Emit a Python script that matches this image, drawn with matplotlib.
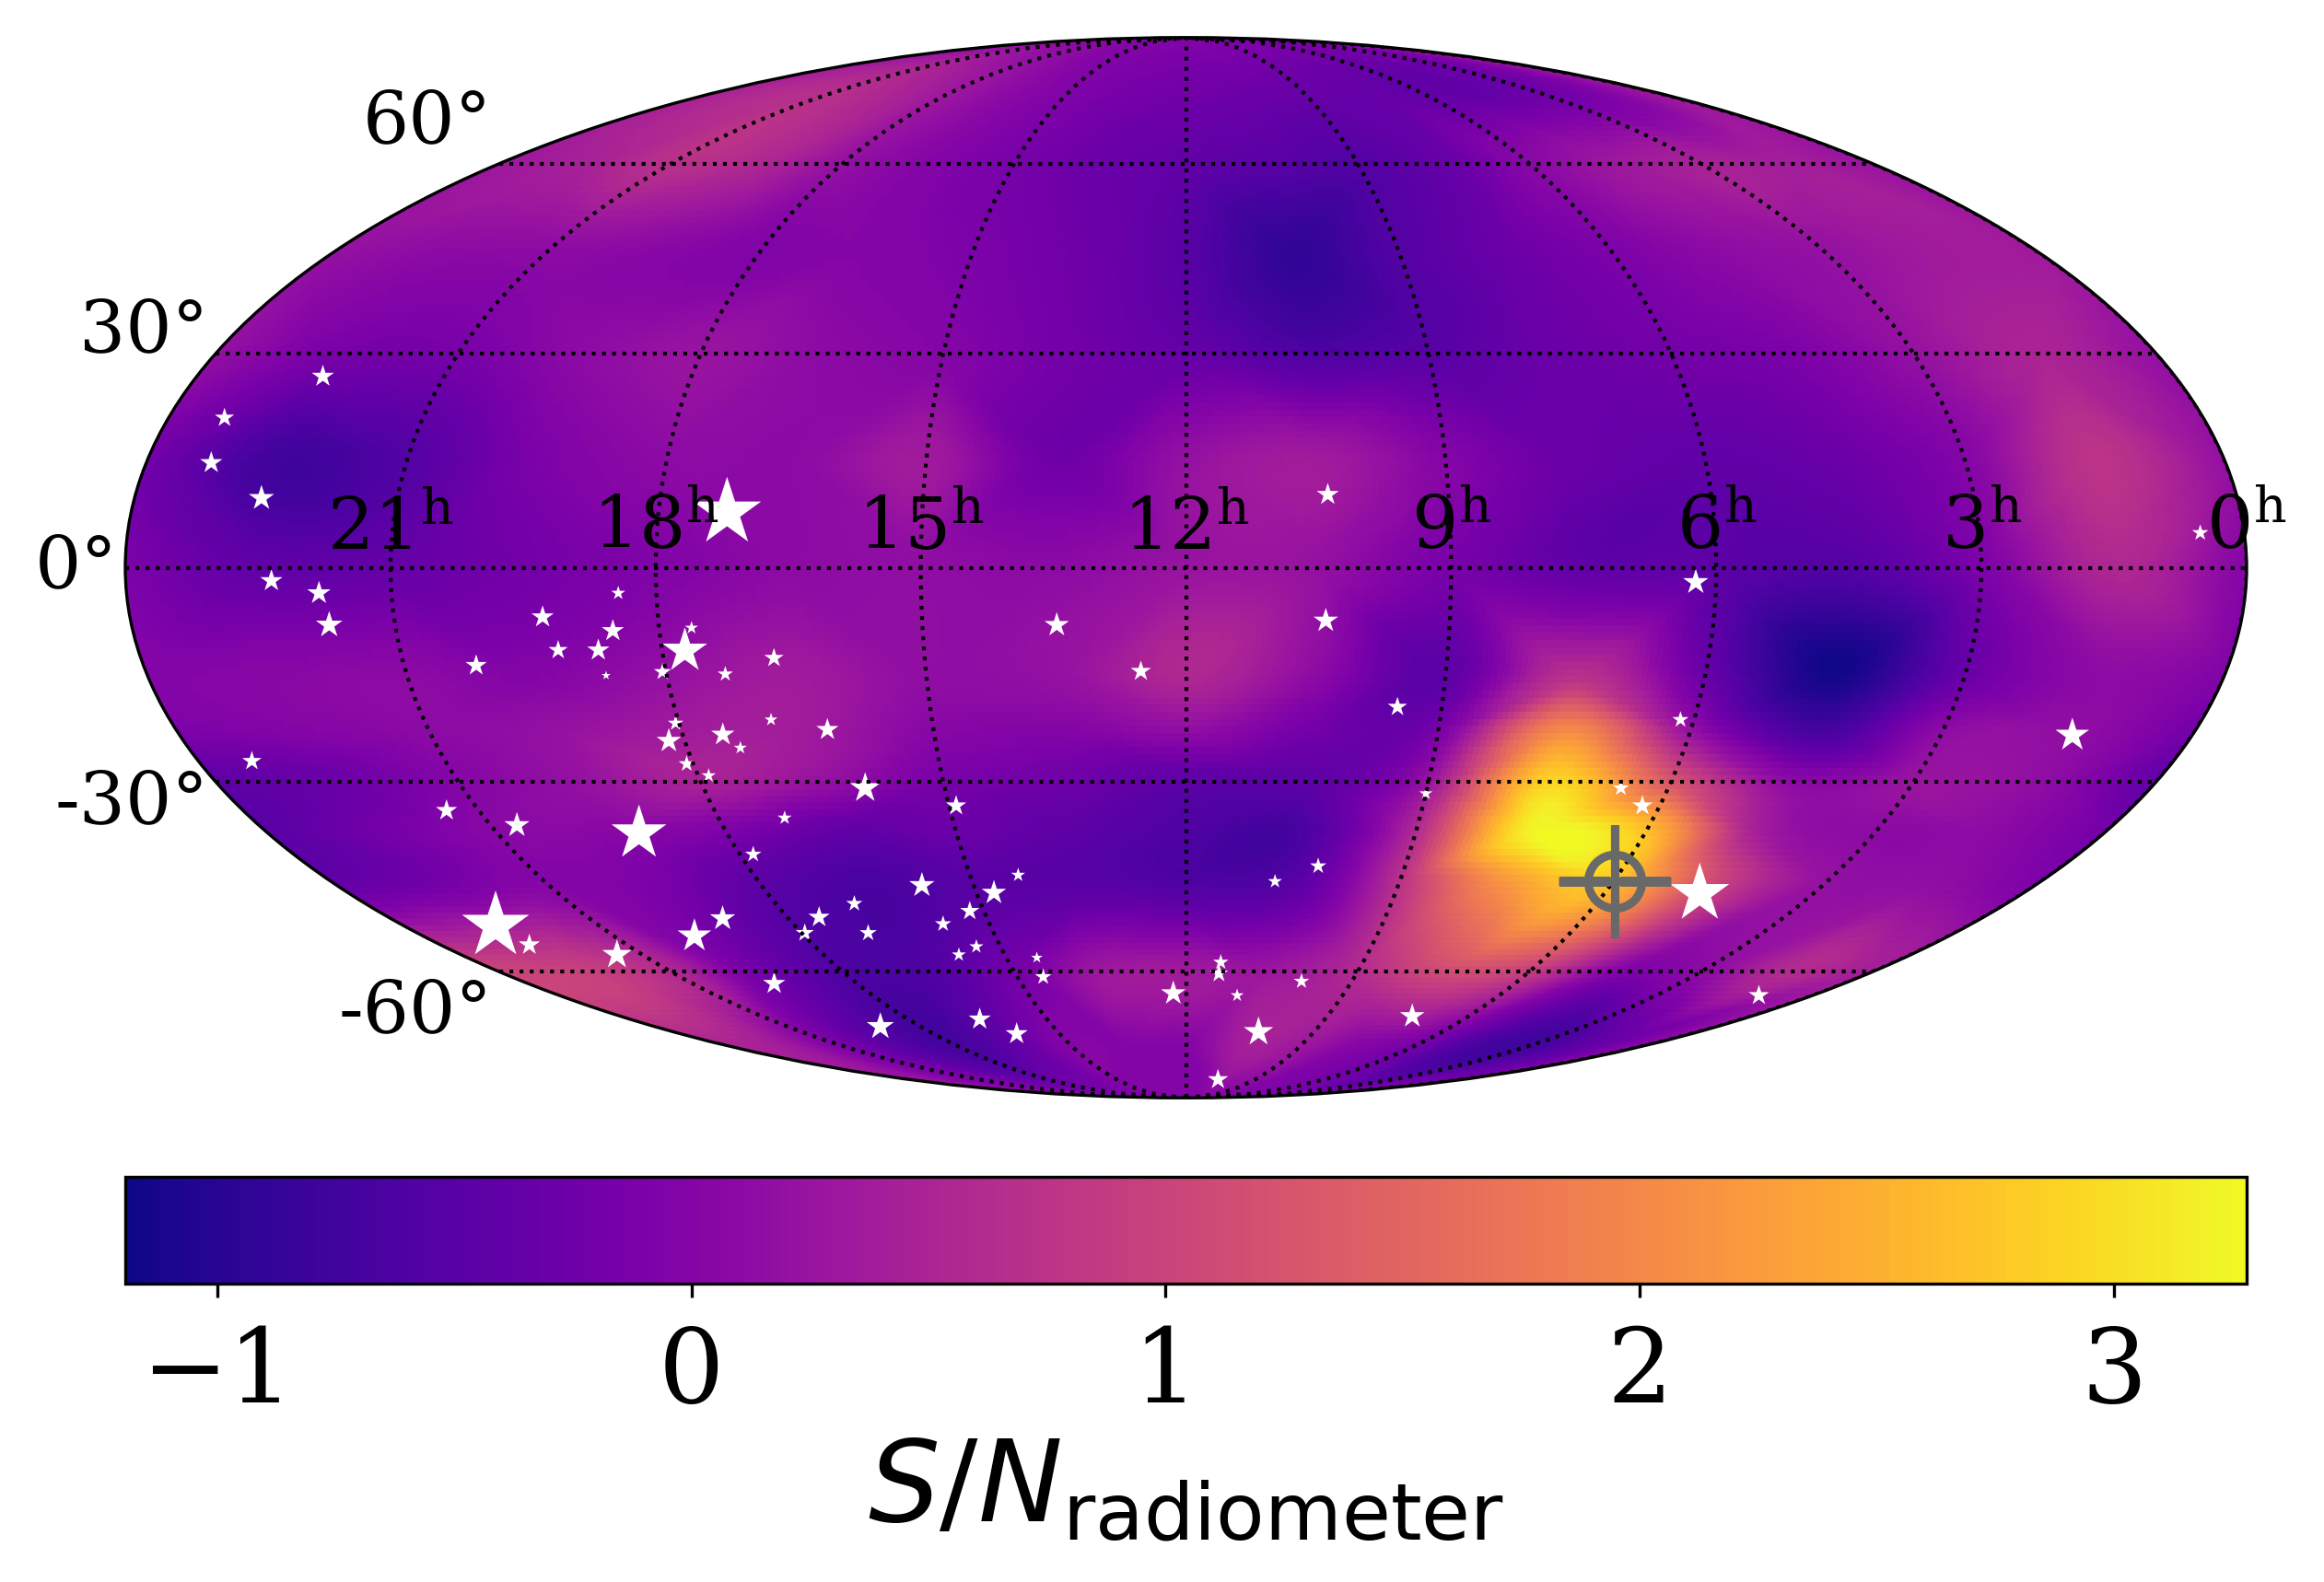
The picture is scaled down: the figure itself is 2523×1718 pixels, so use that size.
import numpy as np
import matplotlib
matplotlib.use("Agg")
import matplotlib.pyplot as plt
import matplotlib.tri as mtri

plt.rcParams['font.family'] = 'DejaVu Serif'

# source positions: RA [h], Dec [deg], marker area
star_ra = [22.47,23.34,23.25,22.55,17.22,22.35,21.82,21.75,18.43,19.31,18.53,17.63,17.74,19.19,18.73,16.73,20.17,18.70,18.04,17.32,16.90,
           16.26,18.04,17.52,18.19,17.36,18.08,17.87,23.35,21.41,20.66,19.15,17.15,17.82,15.99,14.91,14.33,15.73,14.75,16.85,15.21,17.52,
           18.99,15.71,16.96,17.95,19.73,22.59,22.57,21.42,15.39,15.76,14.49,14.54,19.51,12.24,16.45,16.02,18.90,9.00,6.59,6.22,10.19,
           10.75,4.63,11.41,11.42,9.91,11.02,10.30,7.20,1.03,10.61,1.43,0.50,10.38,6.23,10.41,13.47,12.52,9.52,6.16]
star_dec = [26.7,20.8,14.5,9.6,7.6,-1.8,-3.5,-7.9,-3.5,-6.8,-8.7,-8.3,-11.5,-11.4,-11.4,-12.5,-13.5,-14.9,-14.4,-14.7,-21.1,
            -22.5,-21.6,-23.2,-24.1,-25.1,-27.4,-29.1,-27.0,-34.2,-36.4,-37.6,-35.3,-40.8,-30.9,-33.5,-44.0,-45.6,-46.8,-48.5,-49.7,-50.7,
            -50.9,-51.8,-53.3,-53.3,-53.8,-52.1,-55.3,-57.0,-55.6,-57.0,-57.5,-60.9,-62.1,-63.9,-68.9,-71.9,-70.4,-31.7,-30.9,-33.5,-42.6,
            -45.0,-46.9,-58.3,-60.3,-61.7,-64.3,-71.5,-68.3,-64.3,-82.9,-23.3,4.8,10.1,-2.0,-7.3,-7.9,-14.3,-19.3,-21.1]
star_size = [37,28,37,48,348,37,41,53,15,37,37,13,150,28,37,28,34,6,22,18,13,
             37,18,41,45,13,20,15,28,34,48,226,15,20,69,31,15,48,45,20,28,34,
             48,20,22,25,85,338,34,65,15,15,10,20,37,45,37,37,56,13,20,31,20,
             15,261,18,25,18,13,65,45,31,31,85,20,37,48,45,45,31,28,20]

target_ra = 5.99
target_dec = -44.9

ra_hours = [24.0,22.5,21.0,19.5,18.0,16.5,15.0,13.5,12.0,10.5,9.0,7.5,6.0,4.5,3.0,1.5,0.0]
dec_deg = [90,75,60,45,30,15,0,-15,-22.5,-30,-37.5,-45,-60,-75,-90]

# S/N, one row per declination
snr_p90 = [0.0]*17
snr_p75 = [0.45,0.6,0.65,0.5,0.3,0.1,-0.05,-0.15,-0.2,-0.25,-0.3,-0.35,-0.4,-0.4,-0.3,-0.1,0.3]
snr_p60 = [0.3,0.45,0.7,0.55,0.2,0.0,-0.15,-0.3,-0.4,-0.5,-0.55,-0.35,0.05,0.3,0.45,0.4,0.25]
snr_p45 = [0.2,0.1,0.1,0.05,-0.05,0.0,-0.1,-0.25,-0.5,-0.9,-0.55,-0.3,-0.1,0.1,0.2,0.35,0.35]
snr_p30 = [0.2,-0.15,-0.15,0.1,0.25,0.1,0.0,-0.2,-0.35,-0.6,-0.5,-0.3,-0.2,-0.1,0.2,0.5,0.2]
snr_p15 = [-0.2,-0.75,-0.55,-0.1,0.1,0.1,0.35,-0.25,0.2,0.35,0.0,-0.3,-0.4,-0.3,0.0,0.75,0.2]
snr_000 = [-0.1,-0.4,-0.35,-0.2,-0.05,0.1,0.15,0.1,0.25,0.2,-0.15,-0.4,-0.45,-0.55,-0.1,0.55,0.0]
snr_m15 = [0.0,0.05,0.1,0.0,0.2,0.35,0.15,0.2,0.55,0.1,-0.45,0.7,-0.3,-1.15,-0.3,0.1,-0.05]
snr_m22 = [-0.1,0.0,0.1,0.2,0.35,0.35,0.05,0.0,0.15,-0.2,-0.15,2.0,0.2,-0.7,0.1,0.15,-0.2]
snr_m30 = [-0.45,-0.3,0.0,0.2,0.45,0.2,-0.15,-0.25,-0.45,-0.45,0.25,2.9,1.3,0.1,0.25,0.15,-0.4]
snr_m37 = [-0.5,-0.2,0.05,0.05,-0.1,-0.4,-0.3,-0.45,-0.6,-0.65,0.6,3.2,2.7,0.4,0.1,0.1,-0.2]
snr_m45 = [-0.4,-0.2,0.0,-0.1,-0.45,-0.65,-0.5,-0.5,-0.6,-0.5,0.7,2.2,2.7,1.0,0.2,0.15,-0.1]
snr_m60 = [1.0,0.95,0.6,-0.2,-0.6,-0.6,-0.2,0.3,0.35,0.3,0.6,1.1,0.9,0.0,0.1,0.6,0.4]
snr_m75 = [0.5,0.35,-0.1,-0.5,-0.7,-0.4,0.0,0.0,0.0,0.4,0.3,0.0,-0.2,-0.65,-0.75,-0.4,0.1]
snr_m90 = [0.0]*17
snr_rows = [snr_p90,snr_p75,snr_p60,snr_p45,snr_p30,snr_p15,snr_000,snr_m15,snr_m22,snr_m30,snr_m37,snr_m45,snr_m60,snr_m75,snr_m90]

ra_tick_hours = [21,18,15,12,9,6,3,0]
cbar_ticks = [-1,0,1,2,3]
vmin = -1.194
vmax = 3.28


def ra_to_lon(ra):
    return np.radians((12.0 - np.asarray(ra))*15.0)


W, H = 2523, 1718
fig = plt.figure(figsize=(W/300, H/300), dpi=300)
ax = fig.add_axes([136/W, 1-1192.5/H, 2303/W, 1152/H], projection='mollweide')

# smooth the read-off grid with matplotlib's own triangulation interpolator
lon_nodes, lat_nodes = np.meshgrid(ra_to_lon(ra_hours), np.radians(dec_deg))
tri = mtri.Triangulation(lon_nodes.ravel(), lat_nodes.ravel())
interp = mtri.CubicTriInterpolator(tri, np.array(snr_rows).ravel(), kind='geom')

lon_edges = np.linspace(-np.pi, np.pi, 361)
lat_edges = np.linspace(-np.pi/2, np.pi/2, 181)
lon_c = 0.5*(lon_edges[:-1]+lon_edges[1:])
lat_c = 0.5*(lat_edges[:-1]+lat_edges[1:])
LON, LAT = np.meshgrid(lon_c, lat_c)
field = np.ma.filled(interp(LON, LAT), 0.0)
mesh = ax.pcolormesh(lon_edges, lat_edges, field, cmap='plasma', vmin=vmin, vmax=vmax, shading='flat')

ax.scatter(ra_to_lon(star_ra), np.radians(star_dec), s=star_size, marker='*', c='white', linewidths=0)
ax.plot(ra_to_lon(target_ra), np.radians(target_dec), 'o', ms=14, mfc='none', mec='#696969', mew=2.2, zorder=3)
ax.plot(ra_to_lon(target_ra), np.radians(target_dec), '+', ms=29.5, mec='#696969', mew=2.2, zorder=3)

ax.set_latitude_grid(30)
ax.set_longitude_grid_ends(90)
ax.grid(True, color='k', linestyle=':', linewidth=1.0)
ax.set_xticks(ra_to_lon(ra_tick_hours))
ax.set_xticklabels([r'$%d^{\rm h}$' % h for h in ra_tick_hours], fontsize=19, math_fontfamily='dejavuserif')
ax.tick_params(axis='y', labelsize=19)

cax = fig.add_axes([136/W, 1-1394/H, 2303/W, 116/H])
cb = fig.colorbar(mesh, cax=cax, orientation='horizontal', ticks=cbar_ticks)
cb.ax.tick_params(labelsize=27, pad=7)
cb.set_label(r'$S/N_{\rm radiometer}$', fontsize=29.5, labelpad=3)

fig.savefig('out.png', dpi=300)
